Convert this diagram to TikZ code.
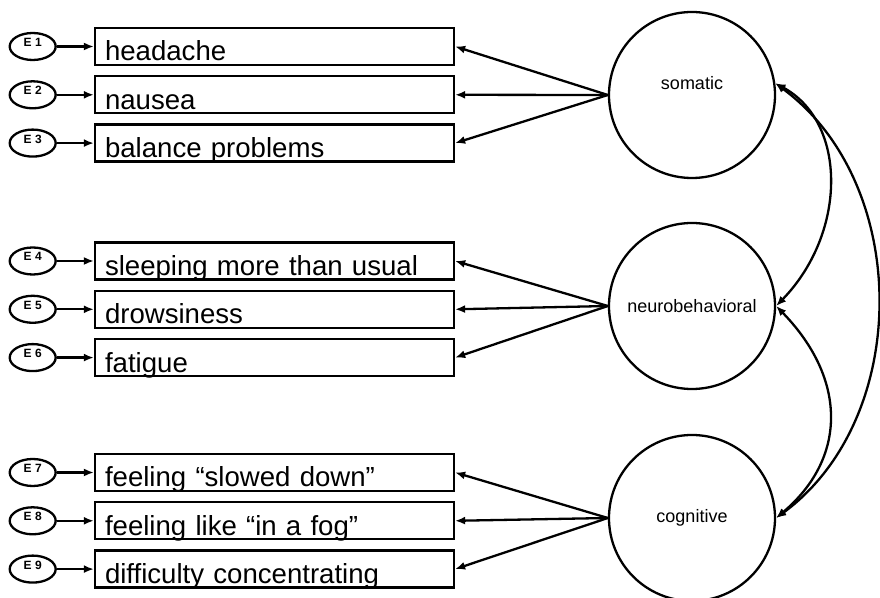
\documentclass[tikz,border=0pt]{standalone}
\usepackage{fontspec}
\setmainfont{Liberation Sans}
\usetikzlibrary{arrows.meta,positioning,shapes.geometric}

\begin{document}
\begin{tikzpicture}[x=0.5pt,y=-0.5pt,line width=1.15pt,
	indicator/.style={draw,rectangle,text width=169.5pt,inner xsep=5pt,inner ysep=2pt,text height=14.5pt,text depth=0pt,align=left,font=\fontsize{13.8pt}{14pt}\selectfont},
	factor/.style={draw,circle,minimum size=83pt,inner sep=0pt,font=\fontsize{9pt}{10pt}\selectfont},
	errterm/.style={draw,ellipse,minimum width=23pt,minimum height=13.5pt,inner sep=0pt,text height=4pt,text depth=4pt,font=\fontsize{6pt}{6pt}\selectfont\bfseries},
	load/.style={-{Latex[length=5pt,width=4pt]}},
	cov/.style={{Latex[length=5pt,width=4pt]}-{Latex[length=5pt,width=4pt]}},
	node distance=4.5pt]
	\useasboundingbox (0,0) rectangle (880,598);
	\node[indicator] (b1) at (274.5,46.5) {headache};
		\node[indicator,below=of b1] (b2) {nausea};
		\node[indicator,below=of b2] (b3) {balance problems};
	\node[indicator] (b4) at (274.5,261) {sleeping more than usual};
		\node[indicator,below=of b4] (b5) {drowsiness};
		\node[indicator,below=of b5] (b6) {fatigue};
	\node[indicator] (b7) at (274.5,472.5) {feeling “slowed down”};
		\node[indicator,below=of b7] (b8) {feeling like “in a fog”};
		\node[indicator,below=of b8] (b9) {difficulty concentrating};
	\foreach \i in {1,...,9}
		\node[errterm,left=18.5pt of b\i] (e\i) {E \i};
	\node[factor,label={[font=\fontsize{9pt}{10pt}\selectfont,yshift=6pt]center:somatic}] (som) at (692,95) {};
	\node[factor] (neu) at (692,306) {neurobehavioral};
	\node[factor] (cog) at (692,518) {cognitive};
	\foreach \i in {1,...,9}
		\draw[load] (e\i) -- (b\i);
	\draw[load] (som.west) -- (b1.east);
	\draw[load] (som.west) -- (b2.east);
	\draw[load] (som.west) -- (b3.east);
	\draw[load] (neu.west) -- (b4.east);
	\draw[load] (neu.west) -- (b5.east);
	\draw[load] (neu.west) -- (b6.east);
	\draw[load] (cog.west) -- (b7.east);
	\draw[load] (cog.west) -- (b8.east);
	\draw[load] (cog.west) -- (b9.east);
	\draw[cov] (som.8) .. controls +(72,39) and +(71,-73) .. (neu.0);
	\draw[cov] (neu.0) .. controls +(71,73) and +(71,-60) .. (cog.0);
	\draw[cov] (som.8) .. controls +(136,100) and +(136,-100) .. (cog.0);
\end{tikzpicture}
\end{document}
